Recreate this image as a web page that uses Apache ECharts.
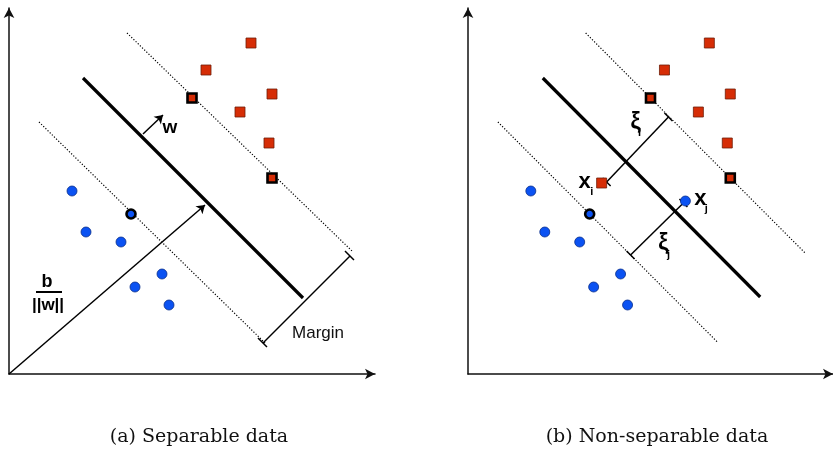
<!DOCTYPE html>
<html><head><meta charset="utf-8">
<script src="https://cdn.jsdelivr.net/npm/echarts@6/dist/echarts.min.js"></script>
<style>html,body{margin:0;padding:0;background:#fff}#c{width:833px;height:451px}</style>
</head><body><div id="c"></div>
<script>
// ---- data (units: diagram coordinates, origin at axes corner) ----
const bluePoints = [[63,183],[77,142],[112,132],[153,100],[126,87],[160,69]];
const blueSupport = [[122,160]];
const redPoints = [[242,331],[197,304],[263,280],[231,262],[260,231]];
const redSupport = [[183,276],[263,196]];
const slackRed = [[134,191]];
const slackBlue = [[218,173]];

const hyperplaneA = [[74,296],[294,76]];
const upperMarginA = [[118,341],[343,123]];
const lowerMarginA = [[30,252],[256,31]];
const hyperplaneB = [[75,296],[293,77]];
const upperMarginB = [[118,341],[338,121]];
const lowerMarginB = [[30,252],[250,32]];

const wArrow = [[134,240],[154,259]];
const offsetArrow = [[0,0],[196,169]];
const marginBracket = [[254,31],[341,118]];
const marginTicks = [[[249,36],[258,27]],[[336,123],[345,114]]];
const fractionBar = [[27,82],[53,82]];

const slackI = [[139,192],[201,257]];
const slackJ = [[163,119],[216,171]];
const slackTicks = [[[135,196],[143,188]],[[197,261],[205,253]],[[159,123],[167,115]],[[212,175],[220,167]]];

const labelTextsA = ['w','b','||w||','Margin'];
const labelAnchorsA = [[161,246],[38,92],[39,69],[309,41]];
const labelTextsB = ['ξ','i','x','i','x','j','ξ','j'];
const labelAnchorsB = [[168,251],[172,241],[117,192],[124,182],[233,175],[239,165],[196,130],[201,119]];

const captions = ['(a) Separable data','(b) Non-separable data'];

// ---- chart ----
const INK = '#000';
function axisPair(p){
  const common = {type:'value', gridIndex:p, min:0, max:366, axisTick:{show:false}, axisLabel:{show:false}, splitLine:{show:false},
    axisLine:{show:true, symbol:['none','arrow'], symbolSize:[8,10], lineStyle:{color:'#111', width:1.5}}};
  return [common, Object.assign({}, common)];
}
const xAxes = [], yAxes = [];
[0,1].forEach(p=>{const [a,b]=axisPair(p); xAxes.push(a); yAxes.push(b);});

function segs(p, list, style, extra){
  return Object.assign({type:'lines', coordinateSystem:'cartesian2d', xAxisIndex:p, yAxisIndex:p, silent:true, z:2,
    symbol:'none', lineStyle:Object.assign({color:INK, opacity:1}, style),
    data:list.map(c=>({coords:c}))}, extra||{});
}
function pts(p, data, shape, fill, border, bw, size){
  return {type:'scatter', xAxisIndex:p, yAxisIndex:p, data:data, symbol:shape, symbolSize:size, z:5, silent:true,
    itemStyle:{color:fill, borderColor:border, borderWidth:bw, opacity:1}};
}
function labels(p, texts, anchors, styles){
  return {type:'scatter', xAxisIndex:p, yAxisIndex:p, symbol:'circle', symbolSize:1, z:6, silent:true,
    itemStyle:{color:'#fff', opacity:0},
    data: texts.map((t,i)=>({value:anchors[i], label:Object.assign({show:true, position:'inside', formatter:t, color:'#000',
      opacity:1, textBorderWidth:0, textShadowBlur:0,
      fontFamily:'Liberation Sans', fontWeight:'bold', fontSize:17}, styles[i]||{})}))};
}
const BLUE = '#0b52f2', BLUEB = '#0a2f8a', RED = '#d62d06', REDB = '#6e1d08';
const series = [];
[0,1].forEach(p=>{
  series.push(pts(p, bluePoints, 'circle', BLUE, BLUEB, 0.8, 10));
  series.push(pts(p, blueSupport, 'circle', BLUE, '#000', 2.6, 9));
  series.push(pts(p, redPoints, 'rect', RED, REDB, 0.8, 10));
  series.push(pts(p, redSupport, 'rect', RED, '#000', 2.6, 9));
});
// panel (a)
series.push(segs(0, [hyperplaneA], {width:3.2}));
series.push(segs(0, [upperMarginA, lowerMarginA], {width:1.2, type:[1.2,1.8]}));
series.push(segs(0, [wArrow, offsetArrow], {width:1.5}, {symbol:['none','arrow'], symbolSize:8}));
series.push(segs(0, [marginBracket].concat(marginTicks), {width:1.5}));
series.push(segs(0, [fractionBar], {width:2}));
series.push(labels(0, labelTextsA, labelAnchorsA, [
  {fontSize:19},{fontSize:18},{fontSize:17},{fontWeight:'normal', fontSize:17, color:'#111'}
]));
// panel (b)
series.push(segs(1, [hyperplaneB], {width:3.2}));
series.push(segs(1, [upperMarginB, lowerMarginB], {width:1.2, type:[1.2,1.8]}));
series.push(segs(1, [slackI, slackJ].concat(slackTicks), {width:1.5}));
series.push(pts(1, slackRed, 'rect', RED, REDB, 0.8, 10));
series.push(pts(1, slackBlue, 'circle', BLUE, BLUEB, 0.8, 10));
series.push(labels(1, labelTextsB, labelAnchorsB, [
  {fontSize:23},{fontSize:11},{fontSize:22},{fontSize:11},{fontSize:22},{fontSize:11},{fontSize:23},{fontSize:11}
]));

const chart = echarts.init(document.getElementById('c'), null, {renderer:'canvas'});
chart.setOption({
  animation:false,
  backgroundColor:'#fff',
  grid:[{left:9, top:8, width:366, height:366},{left:468, top:8, width:366, height:366}],
  xAxis:xAxes, yAxis:yAxes,
  series:series,
  graphic:[
    {type:'text', x:199, y:437, style:{text:captions[0], align:'center', verticalAlign:'middle', fontSize:19, fontFamily:'DejaVu Serif', fill:'#111'}},
    {type:'text', x:657, y:437, style:{text:captions[1], align:'center', verticalAlign:'middle', fontSize:19, fontFamily:'DejaVu Serif', fill:'#111'}}
  ]
});
</script></body></html>
